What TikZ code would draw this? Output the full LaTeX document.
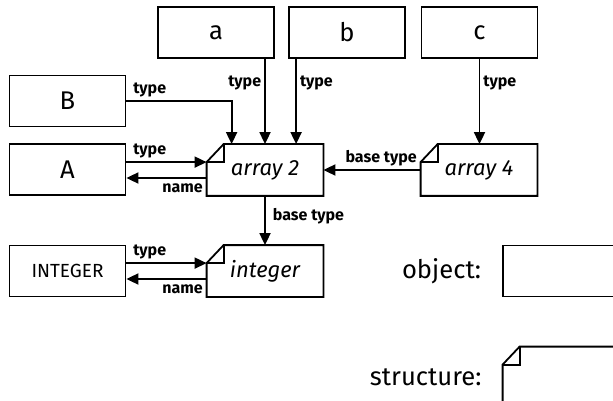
\documentclass[tikz,border=0pt]{standalone}
\usepackage{fontspec}
\setmainfont{Fira Sans}
\usetikzlibrary{arrows.meta,positioning}

\tikzset{
  obj/.style={draw, line width=0.9pt, minimum width=58pt, minimum height=25.5pt,
    inner sep=0pt, font=\fontsize{12.8}{14}\selectfont},
  struct/.style={minimum width=58pt, minimum height=25.5pt, inner sep=0pt,
    font=\fontsize{11}{13}\selectfont\itshape},
  lbl/.style={font=\fontsize{8}{9}\selectfont\bfseries, inner sep=1.5pt},
  key/.style={font=\fontsize{12.8}{14}\selectfont},
  link/.style={line width=0.9pt, -{Triangle[length=6pt,width=5.5pt]}},
}
% box with folded top-left corner
\newcommand{\foldframe}[1]{%
  \draw[line width=0.9pt] ([yshift=-9pt]#1.north west) coordinate (#1-fold)
    -- ([xshift=8.5pt]#1.north west) -- (#1.north east) -- (#1.south east)
    -- (#1.south west) -- cycle;
  \draw[line width=0.9pt] (#1-fold) -| ([xshift=8.5pt]#1.north west);
}

\begin{document}
\begin{tikzpicture}[x=0.5pt,y=-0.5pt]
\useasboundingbox (0,0) rectangle (613,400);

% objects
\node[obj] (a) at (216,32.5) {a};
\node[obj] (b) at (347,32.5) {b};
\node[obj] (c) at (479.5,32.5) {c};
\node[obj] (B) at (67.5,101) {B};
\node[obj] (A) at (67.5,169.5) {A};
\node[obj, font=\fontsize{9.5}{11}\selectfont] (INTEGER) at (67.5,271) {INTEGER};

% structures
\node[struct] (arr2) at (265,170) {array 2};
\node[struct] (arr4) at (479,170) {array 4};
\node[struct] (integer) at (265,271) {integer};
\foldframe{arr2}
\foldframe{arr4}
\foldframe{integer}

% links
\draw[link] (a.south -| arr2.north) -- node[lbl,pos=0.28,left] {type} (arr2.north);
\draw[link] ([xshift=4pt]b.south west) -- node[lbl,pos=0.28,right] {type}
  ([xshift=4pt]b.south west |- arr2.north);
\draw[link] (c.south) -- node[lbl,pos=0.28,right] {type} (c.south |- arr4.north);
\draw[link] (B.east) -| node[lbl,pos=0,above right,xshift=1.5pt] {type}
  ([xshift=12.5pt]arr2.north west);
\draw[link] (A.east |- arr2-fold) -- node[lbl,pos=0,above right,xshift=1.5pt] {type} (arr2-fold);
\draw[link] ([yshift=-4pt]arr2.west) -- node[lbl,pos=0,below left,yshift=-1pt] {name}
  ([yshift=-4pt]arr2.west -| A.east);
\draw[link] (arr4) -- node[lbl,pos=0,above left] {base type} (arr2);
\draw[link] (arr2) -- node[lbl,pos=0.42,right,xshift=2pt] {base type} (integer);
\draw[link] (INTEGER.east |- integer-fold) -- node[lbl,pos=0,above right,xshift=1.5pt] {type} (integer-fold);
\draw[link] ([yshift=-4pt]integer.west) -- node[lbl,pos=0,below left,yshift=-1pt] {name}
  ([yshift=-4pt]integer.west -| INTEGER.east);

% legend
\node[obj] (objkey) at (561,271) {};
\node[key, left=7pt of objkey] (objtext) {object:};
\node[struct, minimum height=30pt] (structkey) at (561,377) {};
\foldframe{structkey}
\node[key, left=7pt of structkey] (structtext) {structure:};
\end{tikzpicture}
\end{document}
